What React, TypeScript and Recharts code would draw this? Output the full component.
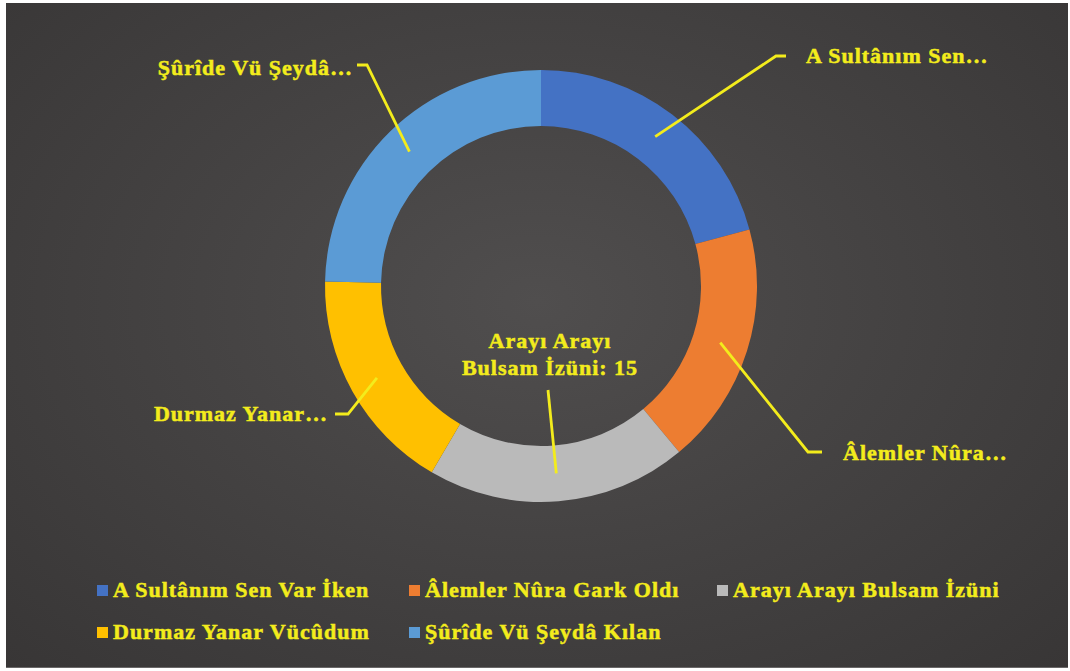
import React from "react";
import { PieChart, Pie, Cell, Legend } from "recharts";

const NAMES = [
  "A Sultânım Sen Var İken",
  "Âlemler Nûra Gark Oldı",
  "Arayı Arayı Bulsam İzüni",
  "Durmaz Yanar Vücûdum",
  "Şûrîde Vü Şeydâ Kılan",
];
const VALUES = [16, 14, 15, 13, 19];
const COLORS = ["#4472c4", "#ed7d31", "#bababa", "#ffc000", "#5b9bd5"];
const SHORT_LABELS = ["A Sultânım Sen…", "Âlemler Nûra…", "", "Durmaz Yanar…", "Şûrîde Vü Şeydâ…"];

const data = NAMES.map((name, i) => ({ name, value: VALUES[i] }));

// Label layout (offsets relative to the pie center)
const LABEL_LAYOUT = [
  { elbow: [235, -230], tail: [245, -230], text: [265, -231], anchor: "start" },
  { elbow: [267, 166], tail: [281, 166], text: [302, 166], anchor: "start" },
  { elbow: null, tail: [7, 104], text: [9, 54], anchor: "middle" },
  { elbow: [-193, 128], tail: [-206, 128], text: [-213, 127], anchor: "end" },
  { elbow: [-174, -221], tail: [-184, -221], text: [-188, -219], anchor: "end" },
];

const YELLOW = "#f3ec1c";
const FONT = "'Liberation Serif', 'Times New Roman', serif";
const RAD = Math.PI / 180;

const renderLabel = (props: any) => {
  const { cx, cy, midAngle, innerRadius, outerRadius, index, value, name } = props;
  const r = (innerRadius + outerRadius) / 2;
  const sx = cx + r * Math.cos(-midAngle * RAD);
  const sy = cy + r * Math.sin(-midAngle * RAD);
  const L = LABEL_LAYOUT[index];
  const pts: number[][] = [[sx, sy]];
  if (L.elbow) pts.push([cx + L.elbow[0], cy + L.elbow[1]]);
  pts.push([cx + L.tail[0], cy + L.tail[1]]);
  const d = pts.map((p, i) => (i === 0 ? "M" : "L") + p[0] + "," + p[1]).join(" ");
  const tx = cx + L.text[0];
  const ty = cy + L.text[1];
  const textStyle: any = {
    fontFamily: FONT,
    fontWeight: 700,
    fontSize: 22,
    letterSpacing: 1,
  };
  let lines: string[];
  if (index === 2) {
    const words = String(name).split(" ");
    lines = [words.slice(0, 2).join(" "), words.slice(2).join(" ") + ": " + value];
  } else {
    lines = [SHORT_LABELS[index]];
  }
  return (
    <g key={"lbl" + index}>
      <path d={d} stroke={YELLOW} strokeWidth={2.8} fill="none" />
      {lines.map((ln, i) => (
        <text
          key={i}
          x={tx}
          y={ty + i * 27}
          textAnchor={L.anchor}
          dominantBaseline="central"
          fill={YELLOW}
          stroke={YELLOW}
          strokeWidth={0.5}
          style={textStyle}
        >
          {ln}
        </text>
      ))}
    </g>
  );
};

const LEGEND_COLS = [97, 409, 717];
const LEGEND_ROWS = [590, 632];

const renderLegend = (props: any) => {
  const payload = [...(props.payload || [])].sort(
    (a: any, b: any) => NAMES.indexOf(a.value) - NAMES.indexOf(b.value)
  );
  return (
    <div style={{ position: "relative", width: 1070, height: 80 }}>
      {payload.map((entry: any, i: number) => {
        const col = i % 3;
        const row = Math.floor(i / 3);
        const idx = NAMES.indexOf(entry.value);
        return (
          <div
            key={i}
            style={{
              position: "absolute",
              left: LEGEND_COLS[col],
              top: LEGEND_ROWS[row] - 570 - 14,
              height: 28,
              display: "flex",
              alignItems: "center",
              whiteSpace: "nowrap",
            }}
          >
            <span
              style={{
                display: "inline-block",
                width: 11,
                height: 11,
                background: COLORS[idx],
                marginRight: 5,
              }}
            />
            <span
              style={{
                fontFamily: FONT,
                fontWeight: 700,
                fontSize: 22,
                letterSpacing: 1,
                color: YELLOW,
                WebkitTextStroke: "0.5px " + YELLOW,
              }}
            >
              {entry.value}
            </span>
          </div>
        );
      })}
    </div>
  );
};

export default function App() {
  return (
    <div
      style={{
        position: "fixed",
        left: 0,
        top: 0,
        width: 1070,
        height: 671,
        background: "#ffffff",
        overflow: "hidden",
      }}
    >
      <div
        style={{
          position: "absolute",
          left: 6,
          top: 3,
          width: 1062,
          height: 664,
          background:
            "radial-gradient(ellipse at 50% 45%, #504e4e 0%, #454343 45%, #383636 100%)",
          borderBottom: "1px solid #6a6868",
        }}
      />
      <div style={{ position: "absolute", left: 0, top: 0 }}>
        <PieChart width={1070} height={671} margin={{ top: 0, right: 0, bottom: 0, left: 0 }}>
          <Pie
            data={data}
            dataKey="value"
            nameKey="name"
            cx={541}
            cy={286}
            innerRadius={160}
            outerRadius={216}
            startAngle={90}
            endAngle={-270}
            stroke="none"
            label={renderLabel}
            labelLine={false}
            isAnimationActive={false}
          >
            {data.map((d, i) => (
              <Cell key={d.name} fill={COLORS[i]} />
            ))}
          </Pie>
          <Legend
            content={renderLegend}
            wrapperStyle={{ position: "absolute", left: 0, top: 570, width: 1070, height: 80 }}
          />
        </PieChart>
      </div>
    </div>
  );
}
